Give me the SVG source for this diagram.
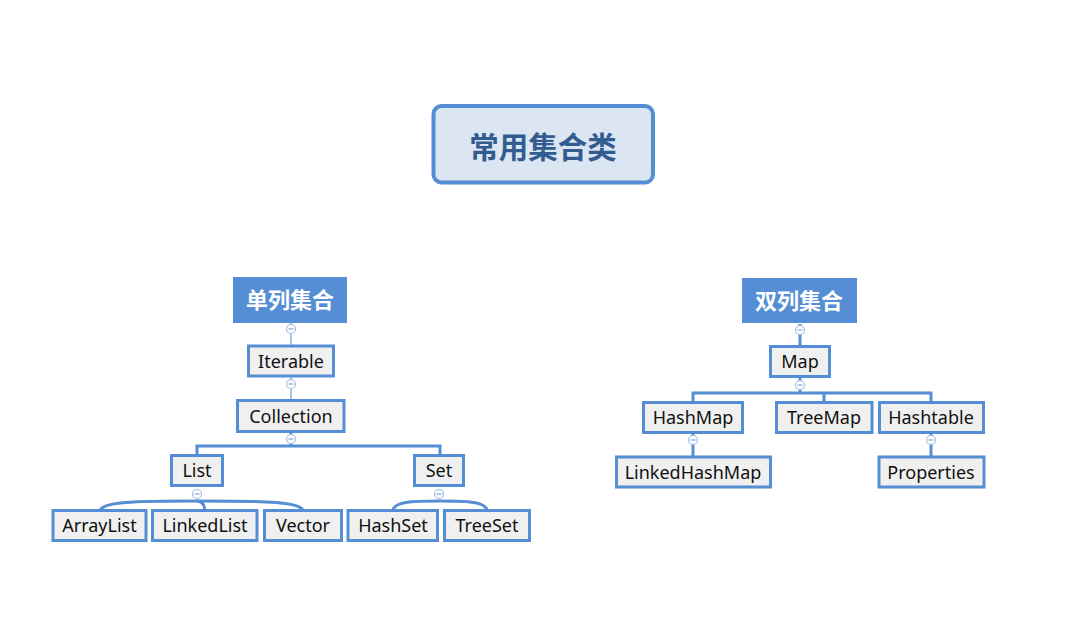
<svg xmlns="http://www.w3.org/2000/svg" width="1082" height="629" viewBox="0 0 1082 629">
<style>
.box{fill:#F0F0F0;stroke:#558ED5;stroke-width:3}
.lbl{font-family:"Noto Sans","Open Sans",sans-serif;font-size:18px;fill:#111;text-anchor:middle}
.cat{fill:#558ED5}
.catt{font-family:"Noto Sans CJK SC","Noto Sans",sans-serif;font-size:22px;font-weight:bold;fill:#fff;text-anchor:middle}
.thick{fill:none;stroke:#558ED5;stroke-width:3}
.thin{fill:none;stroke:#8DB4E2;stroke-width:1.5}
.col{fill:#fff;stroke:#9DBDE6;stroke-width:1.2}
.minus{stroke:#7FA6DA;stroke-width:1.2}
</style>
<rect width="1082" height="629" fill="#fff"/>
<g id="connectors">
<line class="thin" x1="291" y1="323" x2="291" y2="345"/>
<line class="thin" x1="291" y1="377" x2="291" y2="400"/>
<polyline class="thick" points="291,433 291,446"/>
<polyline class="thick" points="197,455 197,446 440,446 440,455"/>
<path class="thick" d="M197,501 C130,501 105,502 100,510"/>
<path class="thick" d="M197,501 C200,501 204,503 205,510"/>
<path class="thick" d="M197,501 C270,501 298,502 303,510"/>
<path class="thick" d="M439,501 C410,501 395,502 393,510"/>
<path class="thick" d="M439,501 C470,501 485,502 487,510"/>
<line class="thick" x1="800" y1="324" x2="800" y2="346"/>
<line class="thick" x1="800" y1="378" x2="800" y2="393"/>
<polyline class="thick" points="693,402 693,393 931,393 931,402"/>
<line class="thick" x1="824" y1="393" x2="824" y2="402"/>
<line class="thick" x1="693" y1="433" x2="693" y2="457"/>
<line class="thick" x1="931" y1="433" x2="931" y2="457"/>
<g id="collapse-marks">
<circle class="col" cx="291" cy="329" r="4.5"/><line class="minus" x1="288.5" y1="329" x2="293.5" y2="329"/>
<circle class="col" cx="291" cy="384" r="4.5"/><line class="minus" x1="288.5" y1="384" x2="293.5" y2="384"/>
<circle class="col" cx="291" cy="439" r="4.5"/><line class="minus" x1="288.5" y1="439" x2="293.5" y2="439"/>
<circle class="col" cx="197" cy="494" r="4.5"/><line class="minus" x1="194.5" y1="494" x2="199.5" y2="494"/>
<circle class="col" cx="439" cy="494" r="4.5"/><line class="minus" x1="436.5" y1="494" x2="441.5" y2="494"/>
<circle class="col" cx="800" cy="330" r="4.5"/><line class="minus" x1="797.5" y1="330" x2="802.5" y2="330"/>
<circle class="col" cx="800" cy="385" r="4.5"/><line class="minus" x1="797.5" y1="385" x2="802.5" y2="385"/>
<circle class="col" cx="693" cy="440" r="4.5"/><line class="minus" x1="690.5" y1="440" x2="695.5" y2="440"/>
<circle class="col" cx="931" cy="440" r="4.5"/><line class="minus" x1="928.5" y1="440" x2="933.5" y2="440"/>
</g>
</g>
<g id="root">
<rect x="433.5" y="106" width="219.5" height="76.5" rx="8" fill="#DCE6F2" stroke="#558ED5" stroke-width="4"/>
<text x="543" y="158" font-family="Noto Sans CJK SC,Noto Sans,sans-serif" font-size="29.5" font-weight="bold" fill="#325C90" text-anchor="middle">常用集合类</text>
</g>
<g id="single"><rect class="cat" x="233" y="277" width="114" height="46"/><text class="catt" x="290" y="308">单列集合</text></g>
<g id="double"><rect class="cat" x="742" y="278" width="115" height="45"/><text class="catt" x="799" y="309">双列集合</text></g>
<g id="iterable"><rect class="box" x="248.5" y="346" width="85" height="30"/><text class="lbl" x="291" y="367.5">Iterable</text></g>
<g id="collection"><rect class="box" x="237.5" y="400.5" width="106.5" height="31"/><text class="lbl" x="291" y="422.5">Collection</text></g>
<g id="list"><rect class="box" x="171.5" y="455.5" width="51" height="30"/><text class="lbl" x="197" y="477">List</text></g>
<g id="set"><rect class="box" x="414.5" y="455.5" width="49" height="30"/><text class="lbl" x="439" y="477">Set</text></g>
<g id="arraylist"><rect class="box" x="53" y="510.5" width="93" height="30"/><text class="lbl" x="99.5" y="532">ArrayList</text></g>
<g id="linkedlist"><rect class="box" x="152.5" y="510.5" width="104.5" height="30"/><text class="lbl" x="205" y="532">LinkedList</text></g>
<g id="vector"><rect class="box" x="264.5" y="510.5" width="77" height="30"/><text class="lbl" x="303" y="532">Vector</text></g>
<g id="hashset"><rect class="box" x="348" y="510.5" width="89.5" height="30"/><text class="lbl" x="393" y="532">HashSet</text></g>
<g id="treeset"><rect class="box" x="444.5" y="510.5" width="85" height="30"/><text class="lbl" x="487" y="532">TreeSet</text></g>
<g id="map"><rect class="box" x="770.5" y="346.5" width="59" height="30"/><text class="lbl" x="800" y="368">Map</text></g>
<g id="hashmap"><rect class="box" x="643.5" y="402.5" width="99" height="30"/><text class="lbl" x="693" y="424">HashMap</text></g>
<g id="treemap"><rect class="box" x="776.5" y="402.5" width="95.5" height="30"/><text class="lbl" x="824" y="424">TreeMap</text></g>
<g id="hashtable"><rect class="box" x="879.5" y="402.5" width="104" height="30"/><text class="lbl" x="931" y="424">Hashtable</text></g>
<g id="linkedhashmap"><rect class="box" x="616.5" y="457" width="154" height="30"/><text class="lbl" x="693" y="479">LinkedHashMap</text></g>
<g id="properties"><rect class="box" x="879" y="457" width="105" height="30"/><text class="lbl" x="931" y="479">Properties</text></g>
</svg>
